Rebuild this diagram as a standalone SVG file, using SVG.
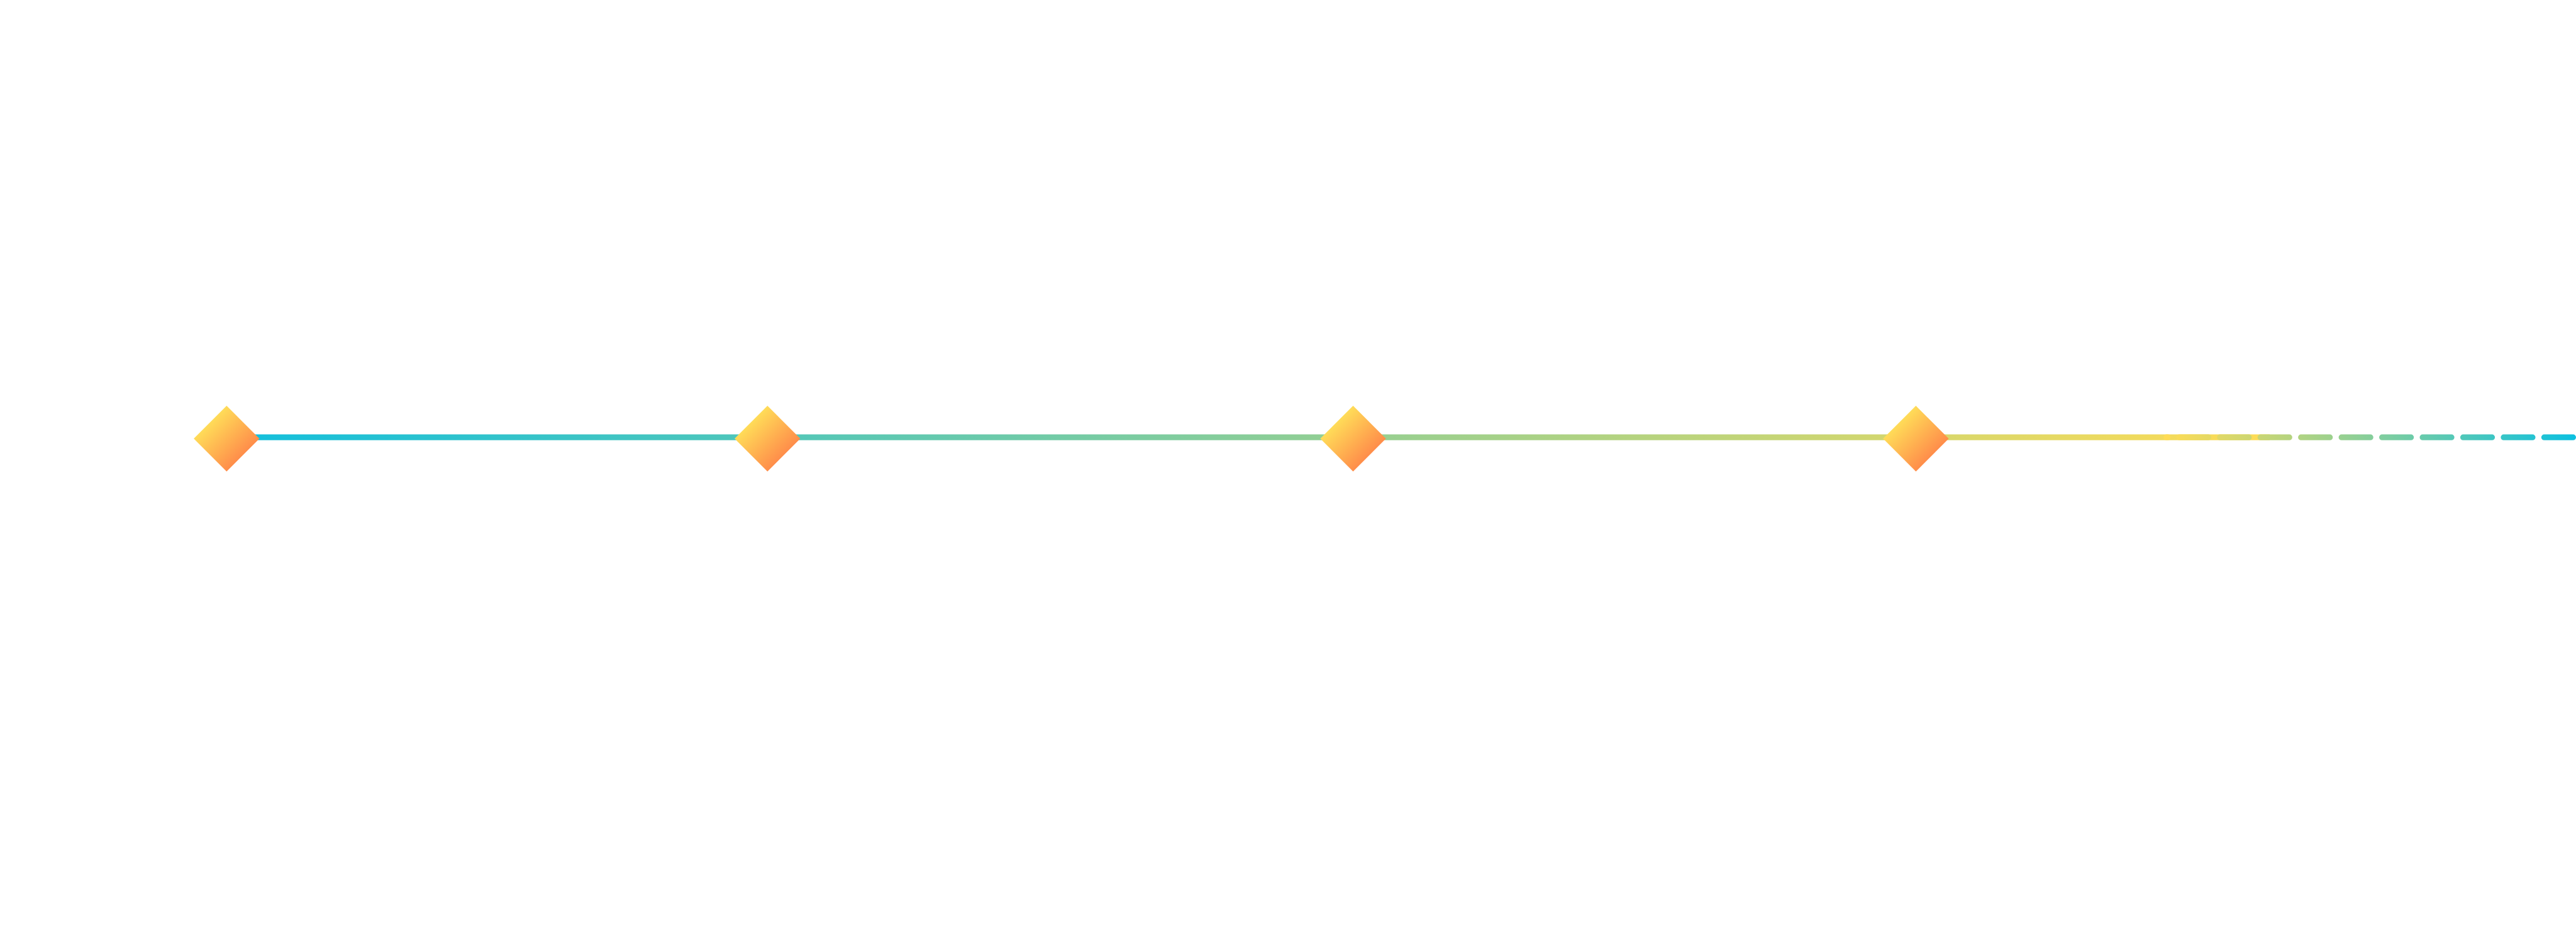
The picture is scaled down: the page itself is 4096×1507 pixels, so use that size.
<svg xmlns="http://www.w3.org/2000/svg" width="4096" height="1507" viewBox="0 0 4096 1507">
  <defs>
    <linearGradient id="gMain" gradientUnits="userSpaceOnUse" x1="360" y1="0" x2="3615" y2="0">
      <stop offset="0" stop-color="#12bfdd"/>
      <stop offset="1" stop-color="#ffdc55"/>
    </linearGradient>
    <linearGradient id="gDash" gradientUnits="userSpaceOnUse" x1="3444" y1="0" x2="4096" y2="0">
      <stop offset="0" stop-color="#ffdc55"/>
      <stop offset="1" stop-color="#0cc0e0"/>
    </linearGradient>
    <linearGradient id="gDiamond" x1="0.25" y1="0.25" x2="0.75" y2="0.75">
      <stop offset="0" stop-color="#ffdc58"/>
      <stop offset="1" stop-color="#ff8d4a"/>
    </linearGradient>
  </defs>
  <style>
    .solid { fill: none; stroke: url(#gMain); stroke-width: 9.2; }
    .dashed { fill: none; stroke: url(#gDash); stroke-width: 9.2; stroke-linecap: round; stroke-dasharray: 46 18.45; }
    .diamond { fill: url(#gDiamond); stroke: none; }
  </style>
  <rect x="0" y="0" width="4096" height="1507" fill="#ffffff"/>
  <g id="connectors">
    <path class="solid" d="M360.3 695.2 H3609"/>
    <path class="dashed" d="M4091.4 695.2 H3444.8"/>
  </g>
  <g id="node1">
    <polygon class="diamond" points="360.3,645.1 412.5,697.3 360.3,749.5 308.1,697.3"/>
  </g>
  <g id="node2">
    <polygon class="diamond" points="1220.3,645.1 1272.5,697.3 1220.3,749.5 1168.1,697.3"/>
  </g>
  <g id="node3">
    <polygon class="diamond" points="2151.5,645.1 2203.7,697.3 2151.5,749.5 2099.3,697.3"/>
  </g>
  <g id="node4">
    <polygon class="diamond" points="3046.4,645.1 3098.6,697.3 3046.4,749.5 2994.2,697.3"/>
  </g>
</svg>
